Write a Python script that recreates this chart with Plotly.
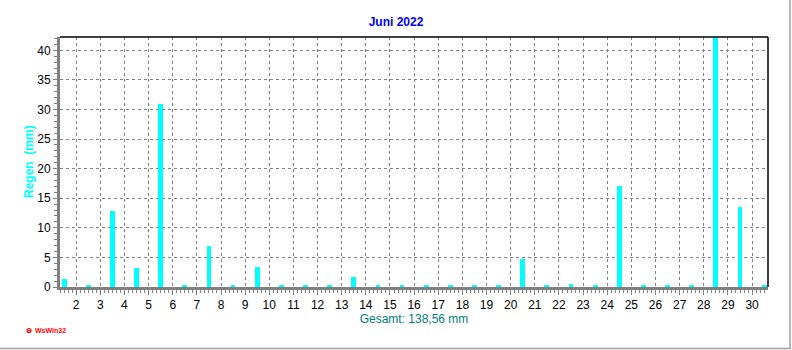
import plotly.graph_objects as go

# ---- data ----
days = list(range(1, 31))
rain_mm = [1.4, 0.35, 12.8, 3.2, 31.0, 0.3, 7.0, 0.3, 3.45, 0.3,
           0.3, 0.3, 1.75, 0.3, 0.3, 0.3, 0.3, 0.3, 0.3, 4.8,
           0.3, 0.55, 0.3, 17.1, 0.3, 0.3, 0.3, 42.3, 13.6, 0.3]
tick_days = list(range(2, 31))
title_text = "Juni 2022"
y_title = "Regen\u00a0 (mm)"
x_title = "Gesamt: 138,56 mm"

FONT = "Liberation Sans, Arial, sans-serif"

fig = go.Figure()
fig.add_trace(go.Bar(
    x=[d + 0.5 for d in days],
    y=rain_mm,
    width=0.2,
    marker=dict(color="#00FFFF", line=dict(width=0)),
    hoverinfo="skip",
))

fig.update_layout(
    width=792, height=350,
    margin=dict(l=60, r=24, t=37, b=63),
    paper_bgcolor="white", plot_bgcolor="white",
    showlegend=False,
    font=dict(family=FONT, size=12, color="black"),
    title=dict(text="<b>" + title_text + "</b>", x=0.5, xref="container",
               xanchor="center", y=1 - 22 / 350, yref="container", yanchor="middle",
               font=dict(family=FONT, size=12, color="#0000FF")),
    bargap=0,
)

fig.update_xaxes(
    range=[1.33, 30.66],
    tickmode="array", tickvals=tick_days, ticktext=[str(d) for d in tick_days],
    ticks="outside", ticklen=5, tickcolor="#808080", tickwidth=1,
    showgrid=True, gridcolor="#808080", gridwidth=1, griddash="3px,3px",
    showline=True, linecolor="#808080", linewidth=3,
    zeroline=False,
    minor=dict(dtick=1 / 6, tick0=0, ticks="outside", ticklen=3,
               tickcolor="#808080", showgrid=False),
    tickfont=dict(family=FONT, size=12, color="black"),
    title=dict(text=x_title, standoff=2,
               font=dict(family=FONT, size=12, color="#008080")),
)

fig.update_yaxes(
    range=[0, 42.25],
    tickmode="linear", tick0=0, dtick=5,
    ticks="outside", ticklen=4, tickcolor="#808080", tickwidth=1,
    showgrid=True, gridcolor="#808080", gridwidth=1, griddash="3px,3px",
    showline=True, linecolor="#808080", linewidth=3,
    zeroline=False,
    minor=dict(dtick=1, ticks="outside", ticklen=3, tickcolor="#808080", showgrid=False),
    tickfont=dict(family=FONT, size=12, color="black"),
)

pw, ph = 792 - 60 - 24, 350 - 37 - 63
def px_x(px):
    return (px - 60) / pw
def px_y(py):
    return (350 - 63 - py) / ph

# y-axis title as rotated annotation
fig.add_annotation(text="<b>" + y_title + "</b>", xref="paper", yref="paper",
                   x=px_x(29), y=px_y(162), xanchor="center", yanchor="middle",
                   textangle=-90, showarrow=False,
                   font=dict(family=FONT, size=12, color="#00FFFF"))

# top and right black frame
fig.add_shape(type="line", xref="paper", yref="paper", x0=0, x1=1, y0=1, y1=1,
              line=dict(color="black", width=1.5))
fig.add_shape(type="line", xref="paper", yref="paper", x0=1, x1=1, y0=0, y1=1,
              line=dict(color="black", width=1.5))

# outer frame (right and bottom gray)
fig.add_shape(type="line", xref="paper", yref="paper",
              x0=px_x(790), x1=px_x(790), y0=px_y(0), y1=px_y(349),
              line=dict(color="#A0A0A0", width=1.5))
fig.add_shape(type="line", xref="paper", yref="paper",
              x0=px_x(0), x1=px_x(791), y0=px_y(348.5), y1=px_y(348.5),
              line=dict(color="#A0A0A0", width=1.5))

# WsWin32 logo
fig.add_shape(type="circle", xref="paper", yref="paper",
              x0=px_x(27), x1=px_x(31), y0=px_y(328.5), y1=px_y(332.5),
              line=dict(color="red", width=1.2), fillcolor="white")
fig.add_shape(type="circle", xref="paper", yref="paper",
              x0=px_x(28.5), x1=px_x(29.5), y0=px_y(330), y1=px_y(331),
              line=dict(color="red", width=1), fillcolor="red")
fig.add_annotation(text="<b>WsWin32</b>", xref="paper", yref="paper",
                   x=px_x(32.5), y=px_y(330.5), xanchor="left", yanchor="middle",
                   showarrow=False, font=dict(family=FONT, size=7, color="red"))

fig.write_html("out.html")
